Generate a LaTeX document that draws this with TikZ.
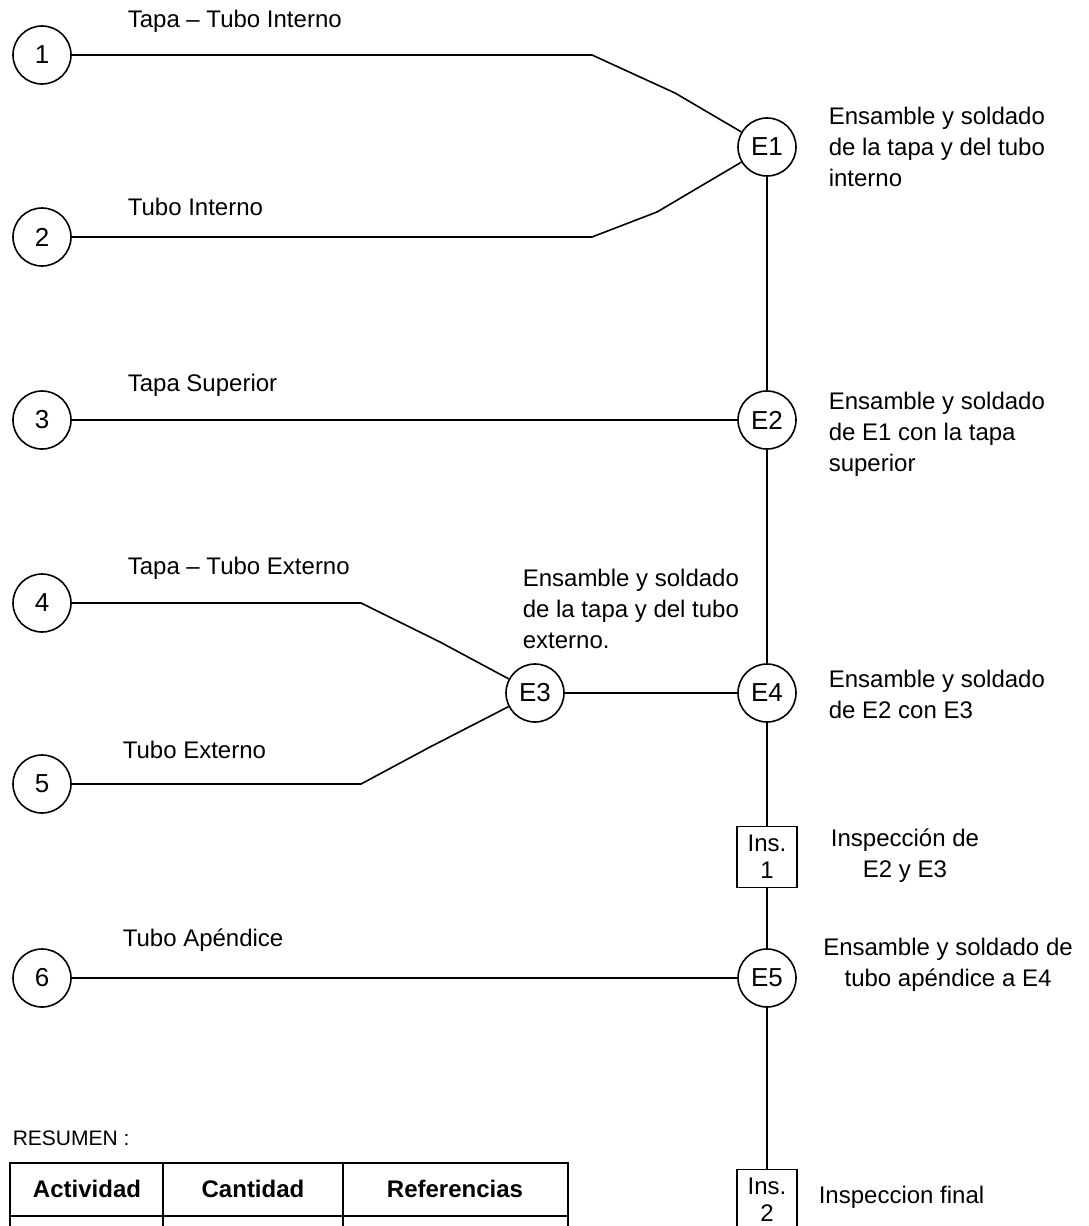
\documentclass[tikz,border=0pt]{standalone}
\usepackage{fontspec}
\setmainfont{Liberation Sans}
\usetikzlibrary{positioning}

\begin{document}
\begin{tikzpicture}[x=0.5pt,y=-0.5pt,line width=0.8pt,
	op/.style={draw,circle,minimum size=29pt,inner sep=0pt,font=\fontsize{13}{15}\selectfont},
	insbox/.style={draw,rectangle,minimum width=30pt,minimum height=30.5pt,inner sep=0pt,align=center,font=\fontsize{12}{13.5}\selectfont},
	lbl/.style={anchor=west,inner sep=0pt,font=\fontsize{12}{14}\selectfont},
	desc/.style={anchor=north west,align=left,inner sep=0pt,font=\fontsize{12}{15.5}\selectfont},
	head/.style={inner sep=0pt,font=\fontsize{12}{14}\selectfont\bfseries}]
	\useasboundingbox (0,0) rectangle (1088,1226);
	\clip (0,0) rectangle (1088,1226);
	% materials
	\node[op] (n1) at (42,55) {1};
	\node[op] (n2) at (42,237) {2};
	\node[op] (n3) at (42,420) {3};
	\node[op] (n4) at (42,603) {4};
	\node[op] (n5) at (42,784) {5};
	\node[op] (n6) at (42,978) {6};
	\node[lbl] (l1) at (127,21) {Tapa -- Tubo Interno};
	\node[lbl] (l2) at (127,207) {Tubo Interno};
	\node[lbl] (l3) at (127,385) {Tapa Superior};
	\node[lbl] (l4) at (127,568) {Tapa -- Tubo Externo};
	\node[lbl] (l5) at (122,750) {Tubo Externo};
	\node[lbl] (l6) at (122,940) {Tubo Apéndice};
	% operations
	\node[op] (E1) at (767,147) {E1};
	\node[op] (E2) at (767,420) {E2};
	\node[op] (E3) at (535,693) {E3};
	\node[op] (E4) at (767,693) {E4};
	\node[insbox] (i1) at (767,857) {Ins.\\1};
	\node[op] (E5) at (767,978) {E5};
	\node[insbox] (i2) at (767,1200) {Ins.\\2};
	\node[desc] (d1) at (828,106) {Ensamble y soldado\\de la tapa y del tubo\\interno};
	\node[desc] (d2) at (828,391) {Ensamble y soldado\\de E1 con la tapa\\superior};
	\node[desc] (d3) at (522,568) {Ensamble y soldado\\de la tapa y del tubo\\externo.};
	\node[desc] (d4) at (828,669) {Ensamble y soldado\\de E2 con E3};
	\node[desc,anchor=north,align=center] (di1) at (905,828) {Inspección de\\E2 y E3};
	\node[desc,anchor=north,align=center] (d5) at (948,937) {Ensamble y soldado de\\tubo apéndice a E4};
	\node[lbl] (di2) at (818,1197) {Inspeccion final};
	% bends
	\coordinate (b1a) at (592,55);  \coordinate (b1b) at (675,93);
	\coordinate (b2a) at (592,237); \coordinate (b2b) at (657,212);
	\coordinate (b4a) at (361,603); \coordinate (b4b) at (440,642);
	\coordinate (b5a) at (361,784); \coordinate (b5b) at (430,747);
	\draw (n1) -- (b1a) -- (b1b) -- (E1);
	\draw (n2) -- (b2a) -- (b2b) -- (E1);
	\draw (n3) -- (E2);
	\draw (n4) -- (b4a) -- (b4b) -- (E3);
	\draw (n5) -- (b5a) -- (b5b) -- (E3);
	\draw (n6) -- (E5);
	\draw (E3) -- (E4);
	\draw (E1) -- (E2) -- (E4) -- (i1) -- (E5) -- (i2);
	% resumen
	\node[lbl,font=\fontsize{10.5}{12}\selectfont] (res) at (12,1138) {RESUMEN :};
	\draw (10,1163) rectangle (568,1270);
	\draw (10,1216) -- (568,1216);
	\draw (163,1163) -- (163,1270);
	\draw (343,1163) -- (343,1270);
	\node[head] (h1) at (87,1189) {Actividad};
	\node[head] (h2) at (253,1189) {Cantidad};
	\node[head] (h3) at (455,1189) {Referencias};
\end{tikzpicture}
\end{document}
